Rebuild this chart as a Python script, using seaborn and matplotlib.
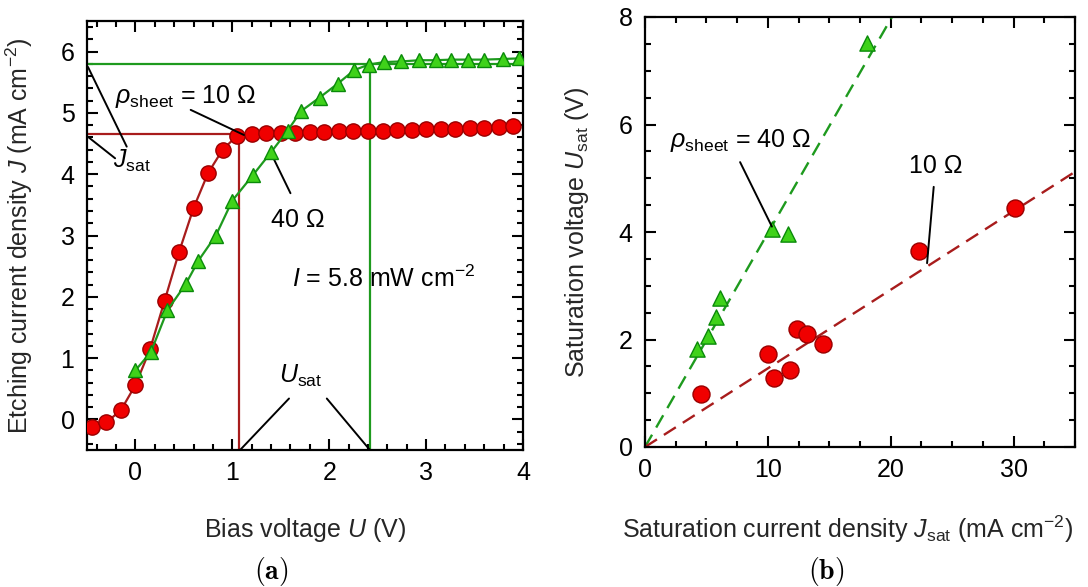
import matplotlib
matplotlib.use("Agg")
import matplotlib.pyplot as plt
import seaborn as sns
import pandas as pd
from matplotlib.ticker import MultipleLocator

# ---------------- data ----------------
# (a) J-U curves
U_10 = [-0.45, -0.30, -0.15, 0.00, 0.15, 0.30, 0.45, 0.60, 0.75, 0.90,
        1.05, 1.20, 1.35, 1.50, 1.65, 1.80, 1.95, 2.10, 2.25, 2.40,
        2.55, 2.70, 2.85, 3.00, 3.15, 3.30, 3.45, 3.60, 3.75, 3.90]
J_10 = [-0.12, -0.05, 0.15, 0.56, 1.14, 1.93, 2.73, 3.45, 4.02, 4.40,
        4.63, 4.66, 4.67, 4.68, 4.68, 4.69, 4.69, 4.70, 4.70, 4.71,
        4.71, 4.72, 4.72, 4.73, 4.73, 4.74, 4.75, 4.76, 4.77, 4.78]
U_40 = [0.00, 0.16, 0.33, 0.52, 0.65, 0.83, 1.00, 1.21, 1.40, 1.57,
        1.71, 1.90, 2.09, 2.26, 2.41, 2.57, 2.74, 2.93, 3.10, 3.26,
        3.43, 3.60, 3.79, 3.96]
J_40 = [0.80, 1.10, 1.78, 2.21, 2.59, 3.00, 3.57, 3.98, 4.36, 4.71,
        5.03, 5.25, 5.48, 5.70, 5.79, 5.83, 5.84, 5.86, 5.86, 5.87,
        5.87, 5.87, 5.88, 5.89]
sat_U = [1.07, 2.42]     # U_sat for 10 Ω, 40 Ω
sat_J = [4.65, 5.80]     # J_sat for 10 Ω, 40 Ω

# (b) U_sat vs J_sat
Jsat_10 = [4.56, 10.05, 10.46, 11.8, 12.36, 13.2, 14.5, 22.3, 30.1]
Usat_10 = [0.99, 1.73, 1.28, 1.43, 2.19, 2.11, 1.91, 3.65, 4.44]
Jsat_40 = [4.2, 5.16, 5.76, 6.11, 10.3, 11.6, 18.07]
Usat_40 = [1.82, 2.07, 2.42, 2.77, 4.05, 3.96, 7.52]
fit_x = [0, 35]
fit_10 = [0, 5.12]
fit_40 = [0, 13.93]

# ---------------- style ----------------
sns.set_theme(style="ticks")
FS = 18
plt.rcParams.update({
    "font.family": ["Liberation Sans", "DejaVu Sans"],
    "mathtext.fontset": "custom",
    "mathtext.rm": "Liberation Sans",
    "mathtext.it": "Liberation Sans:italic",
    "mathtext.bf": "Liberation Sans:bold",
    "axes.linewidth": 1.6,
    "axes.edgecolor": "black",
    "xtick.direction": "in",
    "ytick.direction": "in",
    "xtick.top": True,
    "ytick.right": True,
    "xtick.major.size": 8,
    "ytick.major.size": 8,
    "xtick.minor.size": 4.5,
    "ytick.minor.size": 4.5,
    "xtick.major.width": 1.5,
    "ytick.major.width": 1.5,
    "xtick.minor.width": 1.5,
    "ytick.minor.width": 1.5,
    "xtick.color": "black",
    "ytick.color": "black",
    "xtick.labelsize": FS,
    "ytick.labelsize": FS,
    "xtick.major.pad": 8,
    "ytick.major.pad": 9,
    "axes.labelsize": FS,
    "text.color": "black",
})

RED_FILL, RED_EDGE, RED_LINE = "#f00000", "#9a0000", "#a81c1c"
GRN_FILL, GRN_EDGE, GRN_LINE = "#3fd21a", "#0a8a0a", "#1e9a1e"

fig = plt.figure(figsize=(10.88, 5.87), dpi=100)
axA = fig.add_axes([87 / 1088, 1 - 450 / 587, 436 / 1088, 429 / 587])
axB = fig.add_axes([645 / 1088, 1 - 447 / 587, 430 / 1088, 430 / 587])

# ---------------- panel (a) ----------------
ax = axA
ax.set_xlim(-0.5, 4)
ax.set_ylim(-0.5, 6.5)
# saturation guide lines
ax.plot([-0.5, sat_U[0]], [sat_J[0], sat_J[0]], color=RED_LINE, lw=1.6, zorder=2)
ax.plot([sat_U[0], sat_U[0]], [-0.5, sat_J[0]], color=RED_LINE, lw=1.6, zorder=2)
ax.axhline(sat_J[1], color=GRN_LINE, lw=1.6, zorder=2)
ax.plot([sat_U[1], sat_U[1]], [-0.5, sat_J[1]], color=GRN_LINE, lw=1.6, zorder=2)

sns.lineplot(x=U_10, y=J_10, ax=ax, sort=False, color=RED_LINE, lw=1.6,
             marker="o", markersize=11, markerfacecolor=RED_FILL,
             markeredgecolor=RED_EDGE, markeredgewidth=1.0, zorder=3)
sns.lineplot(x=U_40, y=J_40, ax=ax, sort=False, color=GRN_LINE, lw=1.6,
             marker="^", markersize=10, markerfacecolor=GRN_FILL,
             markeredgecolor=GRN_EDGE, markeredgewidth=1.0, zorder=4)

ax.xaxis.set_major_locator(MultipleLocator(1))
ax.xaxis.set_minor_locator(MultipleLocator(0.2))
ax.yaxis.set_major_locator(MultipleLocator(1))
ax.yaxis.set_minor_locator(MultipleLocator(0.2))
ax.tick_params(which="both", top=True, right=True)
ax.set_xlabel(r"Bias voltage $\mathit{U}$ (V)")
ax.set_ylabel(r"Etching current density $\mathit{J}$ (mA cm$^{-2}$)")
ax.xaxis.set_label_coords(0.5, -0.155)
ax.yaxis.set_label_coords(-0.12, 0.5)

lk = dict(arrowprops=dict(arrowstyle="-", color="black", lw=1.4,
                          shrinkA=0, shrinkB=0))
ax.text(-0.21, 5.16, r"$\mathit{\rho}_{\mathrm{sheet}}$ = 10 Ω", fontsize=FS,
        ha="left", va="baseline")
ax.annotate("", xy=(1.12, 4.64), xytext=(0.57, 5.05), **lk)
ax.text(-0.23, 4.10, r"$\mathit{J}_{\mathrm{sat}}$", fontsize=FS,
        ha="left", va="baseline")
ax.annotate("", xy=(-0.49, 5.75), xytext=(-0.09, 4.45), **lk)
ax.annotate("", xy=(-0.49, 4.61), xytext=(-0.21, 4.26), **lk)
ax.text(1.40, 3.14, "40 Ω", fontsize=FS, ha="left", va="baseline")
ax.annotate("", xy=(1.40, 4.34), xytext=(1.60, 3.69), **lk)
ax.text(1.62, 2.16, r"$\mathit{I}$ = 5.8 mW cm$^{-2}$", fontsize=FS,
        ha="left", va="baseline")
ax.text(1.48, 0.59, r"$\mathit{U}_{\mathrm{sat}}$", fontsize=FS,
        ha="left", va="baseline")
ax.annotate("", xy=(1.08, -0.5), xytext=(1.585, 0.34), **lk)
ax.annotate("", xy=(2.42, -0.5), xytext=(1.975, 0.34), **lk)

# ---------------- panel (b) ----------------
ax = axB
ax.set_xlim(0, 35)
ax.set_ylim(0, 8)
ax.plot(fit_x, fit_40, color=GRN_LINE, lw=1.7, dashes=(6, 3.5), zorder=2)
ax.plot(fit_x, fit_10, color=RED_LINE, lw=1.7, dashes=(6, 3.5), zorder=2)
sns.scatterplot(x=Jsat_10, y=Usat_10, ax=ax, marker="o", s=150,
                color=RED_FILL, edgecolor=RED_EDGE, linewidth=1.0, zorder=3)
sns.scatterplot(x=Jsat_40, y=Usat_40, ax=ax, marker="^", s=120,
                color=GRN_FILL, edgecolor=GRN_EDGE, linewidth=1.0, zorder=3)
ax.xaxis.set_major_locator(MultipleLocator(10))
ax.xaxis.set_minor_locator(MultipleLocator(2.5))
ax.yaxis.set_major_locator(MultipleLocator(2))
ax.yaxis.set_minor_locator(MultipleLocator(0.5))
ax.tick_params(which="both", top=True, right=True)
ax.set_xlabel(r"Saturation current density $\mathit{J}_{\mathrm{sat}}$ (mA cm$^{-2}$)")
ax.set_ylabel(r"Saturation voltage $\mathit{U}_{\mathrm{sat}}$ (V)")
ax.xaxis.set_label_coords(0.47, -0.155)
ax.yaxis.set_label_coords(-0.125, 0.5)

ax.text(2.04, 5.58, r"$\mathit{\rho}_{\mathrm{sheet}}$ = 40 Ω", fontsize=FS,
        ha="left", va="baseline")
ax.annotate("", xy=(10.33, 4.10), xytext=(7.74, 5.30), **lk)
ax.text(21.46, 5.10, "10 Ω", fontsize=FS, ha="left", va="baseline")
ax.annotate("", xy=(22.96, 3.42), xytext=(23.5, 4.84), **lk)

# ---------------- sub-captions ----------------
fig.text(271 / 1088, 1 - 572 / 587, r"$\mathbf{(a)}$", fontsize=20,
         ha="center", va="center", math_fontfamily="cm")
fig.text(826 / 1088, 1 - 572 / 587, r"$\mathbf{(b)}$", fontsize=20,
         ha="center", va="center", math_fontfamily="cm")

fig.savefig("out.png", dpi=100, facecolor="white")
